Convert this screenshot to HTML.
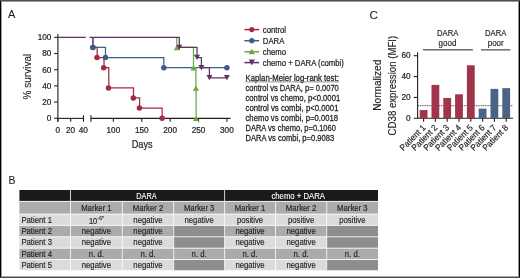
<!DOCTYPE html>
<html><head><meta charset="utf-8"><style>
html,body{margin:0;padding:0;background:#fff;}
#w{position:relative;width:520px;height:278px;overflow:hidden;background:#fff;}
svg{position:absolute;left:0;top:0;will-change:transform;}
text{font-family:"Liberation Sans", sans-serif;}
</style></head><body><div id="w">
<svg width="520" height="278" viewBox="0 0 520 278" font-family='"Liberation Sans", sans-serif'>
<rect x="0" y="0" width="520" height="278" fill="#fff"/>
<text x="8.10" y="18.30" font-size="11.6" fill="#231f20" stroke="#231f20" stroke-width="0.1" textLength="7.35" lengthAdjust="spacingAndGlyphs">A</text>
<line x1="57.9" y1="34" x2="57.9" y2="121.8" stroke="#231f20" stroke-width="1.1"/>
<line x1="54.2" y1="118.20" x2="57.9" y2="118.20" stroke="#231f20" stroke-width="1.1"/>
<text x="51.40" y="121.10" font-size="8.2" text-anchor="end" fill="#231f20" stroke="#231f20" stroke-width="0.22">0</text>
<line x1="54.2" y1="102.03" x2="57.9" y2="102.03" stroke="#231f20" stroke-width="1.1"/>
<text x="51.40" y="104.93" font-size="8.2" text-anchor="end" fill="#231f20" stroke="#231f20" stroke-width="0.22">20</text>
<line x1="54.2" y1="85.86" x2="57.9" y2="85.86" stroke="#231f20" stroke-width="1.1"/>
<text x="51.40" y="88.76" font-size="8.2" text-anchor="end" fill="#231f20" stroke="#231f20" stroke-width="0.22">40</text>
<line x1="54.2" y1="69.69" x2="57.9" y2="69.69" stroke="#231f20" stroke-width="1.1"/>
<text x="51.40" y="72.59" font-size="8.2" text-anchor="end" fill="#231f20" stroke="#231f20" stroke-width="0.22">60</text>
<line x1="54.2" y1="53.52" x2="57.9" y2="53.52" stroke="#231f20" stroke-width="1.1"/>
<text x="51.40" y="56.42" font-size="8.2" text-anchor="end" fill="#231f20" stroke="#231f20" stroke-width="0.22">80</text>
<line x1="54.2" y1="37.35" x2="57.9" y2="37.35" stroke="#231f20" stroke-width="1.1"/>
<text x="51.40" y="40.25" font-size="8.2" text-anchor="end" fill="#231f20" stroke="#231f20" stroke-width="0.22">100</text>
<line x1="57.9" y1="118.4" x2="83.5" y2="118.4" stroke="#231f20" stroke-width="1.1"/>
<line x1="90.9" y1="118.4" x2="230.5" y2="118.4" stroke="#231f20" stroke-width="1.1"/>
<line x1="57.9" y1="118.4" x2="57.9" y2="121.8" stroke="#231f20" stroke-width="1.1"/>
<line x1="70.7" y1="118.4" x2="70.7" y2="121.8" stroke="#231f20" stroke-width="1.1"/>
<line x1="83.5" y1="115.3" x2="83.5" y2="121.8" stroke="#231f20" stroke-width="1.1"/>
<line x1="90.9" y1="115.3" x2="90.9" y2="121.8" stroke="#231f20" stroke-width="1.1"/>
<line x1="113.40" y1="118.4" x2="113.40" y2="121.8" stroke="#231f20" stroke-width="1.1"/>
<line x1="141.78" y1="118.4" x2="141.78" y2="121.8" stroke="#231f20" stroke-width="1.1"/>
<line x1="170.15" y1="118.4" x2="170.15" y2="121.8" stroke="#231f20" stroke-width="1.1"/>
<line x1="198.53" y1="118.4" x2="198.53" y2="121.8" stroke="#231f20" stroke-width="1.1"/>
<line x1="226.90" y1="118.4" x2="226.90" y2="121.8" stroke="#231f20" stroke-width="1.1"/>
<text x="57.90" y="132.50" font-size="8.2" text-anchor="middle" fill="#231f20" stroke="#231f20" stroke-width="0.22">0</text>
<text x="70.60" y="132.50" font-size="8.2" text-anchor="middle" fill="#231f20" stroke="#231f20" stroke-width="0.22">20</text>
<text x="83.20" y="132.50" font-size="8.2" text-anchor="middle" fill="#231f20" stroke="#231f20" stroke-width="0.22">40</text>
<text x="113.40" y="132.50" font-size="8.2" text-anchor="middle" fill="#231f20" stroke="#231f20" stroke-width="0.22">100</text>
<text x="141.78" y="132.50" font-size="8.2" text-anchor="middle" fill="#231f20" stroke="#231f20" stroke-width="0.22">150</text>
<text x="170.15" y="132.50" font-size="8.2" text-anchor="middle" fill="#231f20" stroke="#231f20" stroke-width="0.22">200</text>
<text x="198.53" y="132.50" font-size="8.2" text-anchor="middle" fill="#231f20" stroke="#231f20" stroke-width="0.22">250</text>
<text x="226.90" y="132.50" font-size="8.2" text-anchor="middle" fill="#231f20" stroke="#231f20" stroke-width="0.22">300</text>
<text x="131.70" y="147.50" font-size="10.2" fill="#231f20" stroke="#231f20" stroke-width="0.22" textLength="20.90" lengthAdjust="spacingAndGlyphs">Days</text>
<text transform="translate(31.10,99.40) rotate(-90)" font-size="10.2" fill="#231f20" stroke="#231f20" stroke-width="0.12" textLength="45.60" lengthAdjust="spacingAndGlyphs">% survival</text>
<path d="M92.90,37.35 L92.90,47.46 L97.20,47.46 L97.20,57.56 L104.00,57.56 L104.00,67.67 L108.80,67.67 L108.80,87.88 L133.50,87.88 L133.50,97.99 L139.60,97.99 L139.60,108.09 L162.10,108.09 L162.10,118.20" fill="none" stroke="#a22b42" stroke-width="1.25"/>
<circle cx="92.9" cy="47.46" r="2.75" fill="#a22b42"/>
<circle cx="97.0" cy="57.56" r="2.75" fill="#a22b42"/>
<circle cx="103.7" cy="67.67" r="2.75" fill="#a22b42"/>
<circle cx="108.5" cy="87.88" r="2.75" fill="#a22b42"/>
<circle cx="133.3" cy="97.99" r="2.75" fill="#a22b42"/>
<circle cx="139.4" cy="108.09" r="2.75" fill="#a22b42"/>
<circle cx="162.1" cy="118.20" r="2.75" fill="#a22b42"/>
<path d="M92.90,37.35 L92.90,47.46 L105.50,47.46 L105.50,57.56 L163.80,57.56 L163.80,67.67 L226.90,67.67" fill="none" stroke="#405c8b" stroke-width="1.25"/>
<circle cx="92.9" cy="47.46" r="2.75" fill="#405c8b"/>
<circle cx="105.5" cy="57.56" r="2.75" fill="#405c8b"/>
<circle cx="163.8" cy="67.67" r="2.75" fill="#405c8b"/>
<circle cx="226.9" cy="67.67" r="2.75" fill="#405c8b"/>
<path d="M176.80,37.35 L176.80,47.46 L193.50,47.46 L193.50,67.67 L195.90,67.67 L195.90,87.88 L196.10,87.88 L196.10,118.20" fill="none" stroke="#66aa42" stroke-width="1.25"/>
<path d="M176.80,45.16 L179.90,50.36 L173.70,50.36 Z" fill="#66aa42"/>
<path d="M193.50,65.37 L196.60,70.57 L190.40,70.57 Z" fill="#66aa42"/>
<path d="M195.90,85.58 L199.00,90.78 L192.80,90.78 Z" fill="#66aa42"/>
<path d="M196.10,115.90 L199.20,121.10 L193.00,121.10 Z" fill="#66aa42"/>
<path d="M57.9,37.35 L85.7,37.35" fill="none" stroke="#613262" stroke-width="1.25"/>
<path d="M89.40,37.35 L179.30,37.35 L179.30,47.46 L197.00,47.46 L197.00,57.56 L201.40,57.56 L201.40,67.67 L209.40,67.67 L209.40,77.78 L226.90,77.78" fill="none" stroke="#613262" stroke-width="1.25"/>
<path d="M176.30,44.76 L182.30,44.76 L179.30,49.96 Z" fill="#613262"/>
<path d="M194.00,54.86 L200.00,54.86 L197.00,60.06 Z" fill="#613262"/>
<path d="M198.40,64.97 L204.40,64.97 L201.40,70.17 Z" fill="#613262"/>
<path d="M206.40,75.08 L212.40,75.08 L209.40,80.28 Z" fill="#613262"/>
<path d="M223.90,75.08 L229.90,75.08 L226.90,80.28 Z" fill="#613262"/>
<line x1="244.4" y1="29.6" x2="259.2" y2="29.6" stroke="#a22b42" stroke-width="1.5"/>
<circle cx="251.8" cy="29.6" r="2.6" fill="#a22b42"/>
<text x="262.80" y="32.50" font-size="8.6" fill="#231f20" stroke="#231f20" stroke-width="0.24" textLength="23.23" lengthAdjust="spacingAndGlyphs">control</text>
<line x1="244.4" y1="40.7" x2="259.2" y2="40.7" stroke="#405c8b" stroke-width="1.5"/>
<circle cx="251.8" cy="40.7" r="2.6" fill="#405c8b"/>
<text x="262.80" y="43.60" font-size="8.6" fill="#231f20" stroke="#231f20" stroke-width="0.24" textLength="21.51" lengthAdjust="spacingAndGlyphs">DARA</text>
<line x1="244.4" y1="51.7" x2="259.2" y2="51.7" stroke="#66aa42" stroke-width="1.5"/>
<path d="M251.8,48.80 L254.9,54.30 L248.7,54.30 Z" fill="#66aa42"/>
<text x="262.80" y="54.60" font-size="8.6" fill="#231f20" stroke="#231f20" stroke-width="0.24" textLength="23.23" lengthAdjust="spacingAndGlyphs">chemo</text>
<line x1="244.4" y1="62.6" x2="259.2" y2="62.6" stroke="#613262" stroke-width="1.5"/>
<path d="M248.8,59.60 L254.8,59.60 L251.8,65.40 Z" fill="#613262"/>
<text x="262.80" y="65.50" font-size="8.6" fill="#231f20" stroke="#231f20" stroke-width="0.24" textLength="81.08" lengthAdjust="spacingAndGlyphs">chemo + DARA (combi)</text>
<text x="245.50" y="80.80" font-size="8.6" fill="#231f20" stroke="#231f20" stroke-width="0.26" textLength="93.30" lengthAdjust="spacingAndGlyphs">Kaplan-Meier log-rank test:</text>
<text x="245.50" y="90.90" font-size="8.6" fill="#231f20" stroke="#231f20" stroke-width="0.26" textLength="93.30" lengthAdjust="spacingAndGlyphs">control vs DARA, p= 0.0070</text>
<text x="245.50" y="100.90" font-size="8.6" fill="#231f20" stroke="#231f20" stroke-width="0.26" textLength="94.70" lengthAdjust="spacingAndGlyphs">control vs chemo, p&lt;0.0001</text>
<text x="245.50" y="110.90" font-size="8.6" fill="#231f20" stroke="#231f20" stroke-width="0.26" textLength="93.00" lengthAdjust="spacingAndGlyphs">control vs combi, p&lt;0.0001</text>
<text x="245.50" y="121.00" font-size="8.6" fill="#231f20" stroke="#231f20" stroke-width="0.26" textLength="92.60" lengthAdjust="spacingAndGlyphs">chemo vs combi, p=0.0018</text>
<text x="245.50" y="131.00" font-size="8.6" fill="#231f20" stroke="#231f20" stroke-width="0.26" textLength="90.40" lengthAdjust="spacingAndGlyphs">DARA vs chemo, p=0.1060</text>
<text x="245.50" y="141.00" font-size="8.6" fill="#231f20" stroke="#231f20" stroke-width="0.26" textLength="88.70" lengthAdjust="spacingAndGlyphs">DARA vs combi, p=0.9083</text>
<line x1="245.3" y1="81.9" x2="338.8" y2="81.9" stroke="#7a7a7a" stroke-width="0.8"/>
<text x="369.60" y="19.00" font-size="11.6" fill="#231f20" stroke="#231f20" stroke-width="0.1">C</text>
<line x1="417.6" y1="52.2" x2="417.6" y2="118.9" stroke="#231f20" stroke-width="1.1"/>
<line x1="413.7" y1="118.3" x2="513" y2="118.3" stroke="#231f20" stroke-width="1.1"/>
<line x1="413.7" y1="97.43" x2="417.6" y2="97.43" stroke="#231f20" stroke-width="1.1"/>
<line x1="413.7" y1="76.56" x2="417.6" y2="76.56" stroke="#231f20" stroke-width="1.1"/>
<line x1="413.7" y1="55.69" x2="417.6" y2="55.69" stroke="#231f20" stroke-width="1.1"/>
<text x="410.60" y="121.10" font-size="8.2" text-anchor="end" fill="#231f20" stroke="#231f20" stroke-width="0.22">0</text>
<text x="410.60" y="100.23" font-size="8.2" text-anchor="end" fill="#231f20" stroke="#231f20" stroke-width="0.22">20</text>
<text x="410.60" y="79.36" font-size="8.2" text-anchor="end" fill="#231f20" stroke="#231f20" stroke-width="0.22">40</text>
<text x="410.60" y="58.49" font-size="8.2" text-anchor="end" fill="#231f20" stroke="#231f20" stroke-width="0.22">60</text>
<line x1="418.2" y1="105.7" x2="513.0" y2="105.7" stroke="#2a2a2a" stroke-width="0.9" stroke-dasharray="1,0.75"/>
<rect x="419.70" y="110.06" width="7.8" height="8.24" fill="#a0344a"/>
<line x1="423.60" y1="118.3" x2="423.60" y2="121.8" stroke="#231f20" stroke-width="1.1"/>
<text transform="translate(426.20,128.40) rotate(-45)" font-size="8.8" text-anchor="end" fill="#231f20" stroke="#231f20" stroke-width="0.18" textLength="32.37" lengthAdjust="spacingAndGlyphs">Patient 1</text>
<rect x="431.50" y="84.91" width="7.8" height="33.39" fill="#a0344a"/>
<line x1="435.40" y1="118.3" x2="435.40" y2="121.8" stroke="#231f20" stroke-width="1.1"/>
<text transform="translate(438.00,128.40) rotate(-45)" font-size="8.8" text-anchor="end" fill="#231f20" stroke="#231f20" stroke-width="0.18" textLength="32.37" lengthAdjust="spacingAndGlyphs">Patient 2</text>
<rect x="443.30" y="97.95" width="7.8" height="20.35" fill="#a0344a"/>
<line x1="447.20" y1="118.3" x2="447.20" y2="121.8" stroke="#231f20" stroke-width="1.1"/>
<text transform="translate(449.80,128.40) rotate(-45)" font-size="8.8" text-anchor="end" fill="#231f20" stroke="#231f20" stroke-width="0.18" textLength="32.37" lengthAdjust="spacingAndGlyphs">Patient 3</text>
<rect x="455.10" y="94.30" width="7.8" height="24.00" fill="#a0344a"/>
<line x1="459.00" y1="118.3" x2="459.00" y2="121.8" stroke="#231f20" stroke-width="1.1"/>
<text transform="translate(461.60,128.40) rotate(-45)" font-size="8.8" text-anchor="end" fill="#231f20" stroke="#231f20" stroke-width="0.18" textLength="32.37" lengthAdjust="spacingAndGlyphs">Patient 4</text>
<rect x="466.90" y="65.29" width="7.8" height="53.01" fill="#a0344a"/>
<line x1="470.80" y1="118.3" x2="470.80" y2="121.8" stroke="#231f20" stroke-width="1.1"/>
<text transform="translate(473.40,128.40) rotate(-45)" font-size="8.8" text-anchor="end" fill="#231f20" stroke="#231f20" stroke-width="0.18" textLength="32.37" lengthAdjust="spacingAndGlyphs">Patient 5</text>
<rect x="478.70" y="108.60" width="7.8" height="9.70" fill="#4c6286"/>
<line x1="482.60" y1="118.3" x2="482.60" y2="121.8" stroke="#231f20" stroke-width="1.1"/>
<text transform="translate(485.20,128.40) rotate(-45)" font-size="8.8" text-anchor="end" fill="#231f20" stroke="#231f20" stroke-width="0.18" textLength="32.37" lengthAdjust="spacingAndGlyphs">Patient 6</text>
<rect x="490.50" y="88.87" width="7.8" height="29.43" fill="#4c6286"/>
<line x1="494.40" y1="118.3" x2="494.40" y2="121.8" stroke="#231f20" stroke-width="1.1"/>
<text transform="translate(497.00,128.40) rotate(-45)" font-size="8.8" text-anchor="end" fill="#231f20" stroke="#231f20" stroke-width="0.18" textLength="32.37" lengthAdjust="spacingAndGlyphs">Patient 7</text>
<rect x="502.30" y="88.14" width="7.8" height="30.16" fill="#4c6286"/>
<line x1="506.20" y1="118.3" x2="506.20" y2="121.8" stroke="#231f20" stroke-width="1.1"/>
<text transform="translate(508.80,128.40) rotate(-45)" font-size="8.8" text-anchor="end" fill="#231f20" stroke="#231f20" stroke-width="0.18" textLength="32.37" lengthAdjust="spacingAndGlyphs">Patient 8</text>
<text x="447.80" y="35.70" font-size="8.6" text-anchor="middle" fill="#231f20" stroke="#231f20" stroke-width="0.16" textLength="21.51" lengthAdjust="spacingAndGlyphs">DARA</text>
<text x="447.50" y="45.50" font-size="8.6" text-anchor="middle" fill="#231f20" stroke="#231f20" stroke-width="0.16" textLength="17.79" lengthAdjust="spacingAndGlyphs">good</text>
<text x="495.70" y="35.70" font-size="8.6" text-anchor="middle" fill="#231f20" stroke="#231f20" stroke-width="0.16" textLength="21.51" lengthAdjust="spacingAndGlyphs">DARA</text>
<text x="495.70" y="45.50" font-size="8.6" text-anchor="middle" fill="#231f20" stroke="#231f20" stroke-width="0.16" textLength="16.01" lengthAdjust="spacingAndGlyphs">poor</text>
<line x1="422.9" y1="49.8" x2="472.9" y2="49.8" stroke="#6d6d6d" stroke-width="1.5"/>
<line x1="481" y1="49.8" x2="510.4" y2="49.8" stroke="#6d6d6d" stroke-width="1.5"/>
<text transform="translate(381.20,85.20) rotate(-90)" font-size="10.2" text-anchor="middle" fill="#231f20" stroke="#231f20" stroke-width="0.14" textLength="51.00" lengthAdjust="spacingAndGlyphs">Normalized</text>
<text transform="translate(395.50,85.60) rotate(-90)" font-size="10.2" text-anchor="middle" fill="#231f20" stroke="#231f20" stroke-width="0.14" textLength="99.60" lengthAdjust="spacingAndGlyphs">CD38 expression (MFI)</text>
<text x="8.40" y="183.60" font-size="11.2" fill="#231f20" stroke="#231f20" stroke-width="0.1" textLength="6.95" lengthAdjust="spacingAndGlyphs">B</text>
<rect x="19.4" y="190" width="358.6" height="11.40" fill="#1a1a1a"/>
<rect x="19.4" y="201.40" width="358.6" height="12.70" fill="#acaaab"/>
<rect x="19.4" y="214.10" width="358.6" height="11.30" fill="#dcdadb"/>
<rect x="19.4" y="225.40" width="358.6" height="11.40" fill="#acaaab"/>
<rect x="19.4" y="236.80" width="358.6" height="11.40" fill="#dcdadb"/>
<rect x="19.4" y="248.20" width="358.6" height="11.30" fill="#acaaab"/>
<rect x="19.4" y="259.50" width="358.6" height="10.70" fill="#dcdadb"/>
<rect x="173.70" y="225.40" width="50.90" height="11.40" fill="#8f8d8e"/>
<rect x="326.70" y="225.40" width="51.30" height="11.40" fill="#8f8d8e"/>
<rect x="173.70" y="236.80" width="50.90" height="11.40" fill="#8f8d8e"/>
<rect x="326.70" y="236.80" width="51.30" height="11.40" fill="#8f8d8e"/>
<rect x="173.70" y="259.50" width="50.90" height="10.70" fill="#8f8d8e"/>
<rect x="326.70" y="259.50" width="51.30" height="10.70" fill="#8f8d8e"/>
<line x1="19.4" y1="201.40" x2="378" y2="201.40" stroke="#fff" stroke-width="0.85"/>
<line x1="19.4" y1="214.10" x2="378" y2="214.10" stroke="#fff" stroke-width="0.85"/>
<line x1="19.4" y1="225.40" x2="378" y2="225.40" stroke="#fff" stroke-width="0.85"/>
<line x1="19.4" y1="236.80" x2="378" y2="236.80" stroke="#fff" stroke-width="0.85"/>
<line x1="19.4" y1="248.20" x2="378" y2="248.20" stroke="#fff" stroke-width="0.85"/>
<line x1="19.4" y1="259.50" x2="378" y2="259.50" stroke="#fff" stroke-width="0.85"/>
<line x1="70.50" y1="190" x2="70.50" y2="270.2" stroke="#fff" stroke-width="0.8"/>
<line x1="122.30" y1="201.4" x2="122.30" y2="270.2" stroke="#fff" stroke-width="0.8"/>
<line x1="173.70" y1="201.4" x2="173.70" y2="270.2" stroke="#fff" stroke-width="0.8"/>
<line x1="224.60" y1="190" x2="224.60" y2="270.2" stroke="#fff" stroke-width="0.8"/>
<line x1="275.50" y1="201.4" x2="275.50" y2="270.2" stroke="#fff" stroke-width="0.8"/>
<line x1="326.70" y1="201.4" x2="326.70" y2="270.2" stroke="#fff" stroke-width="0.8"/>
<text x="146.40" y="198.60" font-size="8.6" text-anchor="middle" fill="#fff" stroke="#fff" stroke-width="0.12" textLength="20.31" lengthAdjust="spacingAndGlyphs">DARA</text>
<text x="298.20" y="198.60" font-size="8.6" text-anchor="middle" fill="#fff" stroke="#fff" stroke-width="0.12" textLength="53.56" lengthAdjust="spacingAndGlyphs">chemo + DARA</text>
<text x="96.40" y="210.70" font-size="8.6" text-anchor="middle" fill="#231f20" stroke="#231f20" stroke-width="0.16" textLength="30.54" lengthAdjust="spacingAndGlyphs">Marker 1</text>
<text x="148.00" y="210.70" font-size="8.6" text-anchor="middle" fill="#231f20" stroke="#231f20" stroke-width="0.16" textLength="30.54" lengthAdjust="spacingAndGlyphs">Marker 2</text>
<text x="199.15" y="210.70" font-size="8.6" text-anchor="middle" fill="#231f20" stroke="#231f20" stroke-width="0.16" textLength="30.54" lengthAdjust="spacingAndGlyphs">Marker 3</text>
<text x="250.05" y="210.70" font-size="8.6" text-anchor="middle" fill="#231f20" stroke="#231f20" stroke-width="0.16" textLength="30.54" lengthAdjust="spacingAndGlyphs">Marker 1</text>
<text x="301.10" y="210.70" font-size="8.6" text-anchor="middle" fill="#231f20" stroke="#231f20" stroke-width="0.16" textLength="30.54" lengthAdjust="spacingAndGlyphs">Marker 2</text>
<text x="352.35" y="210.70" font-size="8.6" text-anchor="middle" fill="#231f20" stroke="#231f20" stroke-width="0.16" textLength="30.54" lengthAdjust="spacingAndGlyphs">Marker 3</text>
<text x="21.40" y="222.70" font-size="8.6" fill="#231f20" stroke="#231f20" stroke-width="0.16" textLength="30.55" lengthAdjust="spacingAndGlyphs">Patient 1</text>
<text x="21.40" y="234.05" font-size="8.6" fill="#231f20" stroke="#231f20" stroke-width="0.16" textLength="30.55" lengthAdjust="spacingAndGlyphs">Patient 2</text>
<text x="21.40" y="245.45" font-size="8.6" fill="#231f20" stroke="#231f20" stroke-width="0.16" textLength="30.55" lengthAdjust="spacingAndGlyphs">Patient 3</text>
<text x="21.40" y="256.80" font-size="8.6" fill="#231f20" stroke="#231f20" stroke-width="0.16" textLength="30.55" lengthAdjust="spacingAndGlyphs">Patient 4</text>
<text x="21.40" y="267.80" font-size="8.6" fill="#231f20" stroke="#231f20" stroke-width="0.16" textLength="30.55" lengthAdjust="spacingAndGlyphs">Patient 5</text>
<text x="88.90" y="223.70" font-size="8.6" fill="#231f20" stroke="#231f20" stroke-width="0.16" textLength="8.40" lengthAdjust="spacingAndGlyphs">10</text>
<text x="97.60" y="219.90" font-size="5.2" fill="#231f20" stroke="#231f20" stroke-width="0.1" textLength="6.40" lengthAdjust="spacingAndGlyphs">-6*</text>
<text x="148.00" y="222.70" font-size="8.6" text-anchor="middle" fill="#231f20" stroke="#231f20" stroke-width="0.16" textLength="29.26" lengthAdjust="spacingAndGlyphs">negative</text>
<text x="199.15" y="222.70" font-size="8.6" text-anchor="middle" fill="#231f20" stroke="#231f20" stroke-width="0.16" textLength="29.26" lengthAdjust="spacingAndGlyphs">negative</text>
<text x="250.05" y="222.70" font-size="8.6" text-anchor="middle" fill="#231f20" stroke="#231f20" stroke-width="0.16" textLength="26.24" lengthAdjust="spacingAndGlyphs">positive</text>
<text x="301.10" y="222.70" font-size="8.6" text-anchor="middle" fill="#231f20" stroke="#231f20" stroke-width="0.16" textLength="26.24" lengthAdjust="spacingAndGlyphs">positive</text>
<text x="352.35" y="222.70" font-size="8.6" text-anchor="middle" fill="#231f20" stroke="#231f20" stroke-width="0.16" textLength="26.24" lengthAdjust="spacingAndGlyphs">positive</text>
<text x="96.40" y="234.05" font-size="8.6" text-anchor="middle" fill="#231f20" stroke="#231f20" stroke-width="0.16" textLength="29.26" lengthAdjust="spacingAndGlyphs">negative</text>
<text x="148.00" y="234.05" font-size="8.6" text-anchor="middle" fill="#231f20" stroke="#231f20" stroke-width="0.16" textLength="29.26" lengthAdjust="spacingAndGlyphs">negative</text>
<text x="250.05" y="234.05" font-size="8.6" text-anchor="middle" fill="#231f20" stroke="#231f20" stroke-width="0.16" textLength="29.26" lengthAdjust="spacingAndGlyphs">negative</text>
<text x="301.10" y="234.05" font-size="8.6" text-anchor="middle" fill="#231f20" stroke="#231f20" stroke-width="0.16" textLength="29.26" lengthAdjust="spacingAndGlyphs">negative</text>
<text x="96.40" y="245.45" font-size="8.6" text-anchor="middle" fill="#231f20" stroke="#231f20" stroke-width="0.16" textLength="29.26" lengthAdjust="spacingAndGlyphs">negative</text>
<text x="148.00" y="245.45" font-size="8.6" text-anchor="middle" fill="#231f20" stroke="#231f20" stroke-width="0.16" textLength="29.26" lengthAdjust="spacingAndGlyphs">negative</text>
<text x="250.05" y="245.45" font-size="8.6" text-anchor="middle" fill="#231f20" stroke="#231f20" stroke-width="0.16" textLength="29.26" lengthAdjust="spacingAndGlyphs">negative</text>
<text x="301.10" y="245.45" font-size="8.6" text-anchor="middle" fill="#231f20" stroke="#231f20" stroke-width="0.16" textLength="29.26" lengthAdjust="spacingAndGlyphs">negative</text>
<text x="96.40" y="256.80" font-size="8.6" text-anchor="middle" fill="#231f20" stroke="#231f20" stroke-width="0.16" textLength="15.06" lengthAdjust="spacingAndGlyphs">n. d.</text>
<text x="148.00" y="256.80" font-size="8.6" text-anchor="middle" fill="#231f20" stroke="#231f20" stroke-width="0.16" textLength="15.06" lengthAdjust="spacingAndGlyphs">n. d.</text>
<text x="199.15" y="256.80" font-size="8.6" text-anchor="middle" fill="#231f20" stroke="#231f20" stroke-width="0.16" textLength="15.06" lengthAdjust="spacingAndGlyphs">n. d.</text>
<text x="250.05" y="256.80" font-size="8.6" text-anchor="middle" fill="#231f20" stroke="#231f20" stroke-width="0.16" textLength="15.06" lengthAdjust="spacingAndGlyphs">n. d.</text>
<text x="301.10" y="256.80" font-size="8.6" text-anchor="middle" fill="#231f20" stroke="#231f20" stroke-width="0.16" textLength="15.06" lengthAdjust="spacingAndGlyphs">n. d.</text>
<text x="352.35" y="256.80" font-size="8.6" text-anchor="middle" fill="#231f20" stroke="#231f20" stroke-width="0.16" textLength="15.06" lengthAdjust="spacingAndGlyphs">n. d.</text>
<text x="96.40" y="267.80" font-size="8.6" text-anchor="middle" fill="#231f20" stroke="#231f20" stroke-width="0.16" textLength="29.26" lengthAdjust="spacingAndGlyphs">negative</text>
<text x="148.00" y="267.80" font-size="8.6" text-anchor="middle" fill="#231f20" stroke="#231f20" stroke-width="0.16" textLength="29.26" lengthAdjust="spacingAndGlyphs">negative</text>
<text x="250.05" y="267.80" font-size="8.6" text-anchor="middle" fill="#231f20" stroke="#231f20" stroke-width="0.16" textLength="29.26" lengthAdjust="spacingAndGlyphs">negative</text>
<text x="301.10" y="267.80" font-size="8.6" text-anchor="middle" fill="#231f20" stroke="#231f20" stroke-width="0.16" textLength="29.26" lengthAdjust="spacingAndGlyphs">negative</text>
<rect x="0" y="0" width="520" height="1" fill="#505050"/>
<rect x="0" y="1" width="520" height="1" fill="#9a9a9a"/>
<rect x="0" y="277" width="520" height="1" fill="#484848"/>
<rect x="0" y="276" width="520" height="1" fill="#a8a8a8"/>
<rect x="1" y="2" width="1" height="274" fill="#a0a0a0"/>
<rect x="518" y="2" width="1" height="274" fill="#909090"/>
<rect x="0" y="1" width="1" height="276" fill="#000"/>
<rect x="519" y="1" width="1" height="276" fill="#000"/>
</svg></div></body></html>
